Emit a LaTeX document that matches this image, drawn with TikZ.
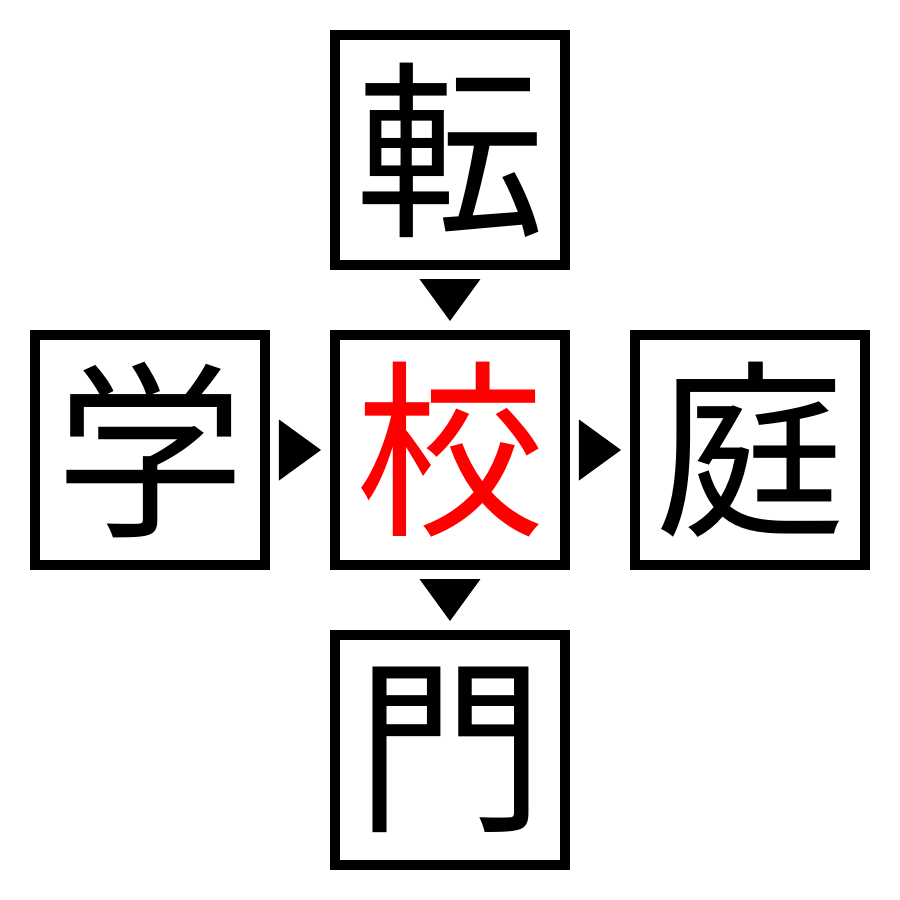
\documentclass[tikz,border=0pt]{standalone}
\usepackage{fontspec}
\newfontfamily\cjk{Noto Sans CJK JP}
\usepackage{tikz}
\usetikzlibrary{calc}

\begin{document}
\begin{tikzpicture}[kanji/.style={draw=black,line width=1mm,minimum size=2.3cm,inner sep=0pt,font=\cjk\fontsize{54}{54}\selectfont},
  tri/.style={fill=black}]
  \useasboundingbox (-4.5,-4.5) rectangle (4.5,4.5);
  \node[kanji] (ten) at (0,3) {転};
  \node[kanji] (gaku) at (-3,0) {学};
  \node[kanji,text=red] (kou) at (0,0) {校};
  \node[kanji] (tei) at (3,0) {庭};
  \node[kanji] (mon) at (0,-3) {門};
  \fill[tri] ($(ten.south)!.5!(kou.north)+(-.305,.21)$) -- ++(.61,0) -- ($(ten.south)!.5!(kou.north)+(0,-.21)$) -- cycle;
  \fill[tri] ($(kou.south)!.5!(mon.north)+(-.305,.21)$) -- ++(.61,0) -- ($(kou.south)!.5!(mon.north)+(0,-.21)$) -- cycle;
  \fill[tri] ($(gaku.east)!.5!(kou.west)+(-.21,.305)$) -- ++(0,-.61) -- ($(gaku.east)!.5!(kou.west)+(.21,0)$) -- cycle;
  \fill[tri] ($(kou.east)!.5!(tei.west)+(-.21,.305)$) -- ++(0,-.61) -- ($(kou.east)!.5!(tei.west)+(.21,0)$) -- cycle;
\end{tikzpicture}
\end{document}
